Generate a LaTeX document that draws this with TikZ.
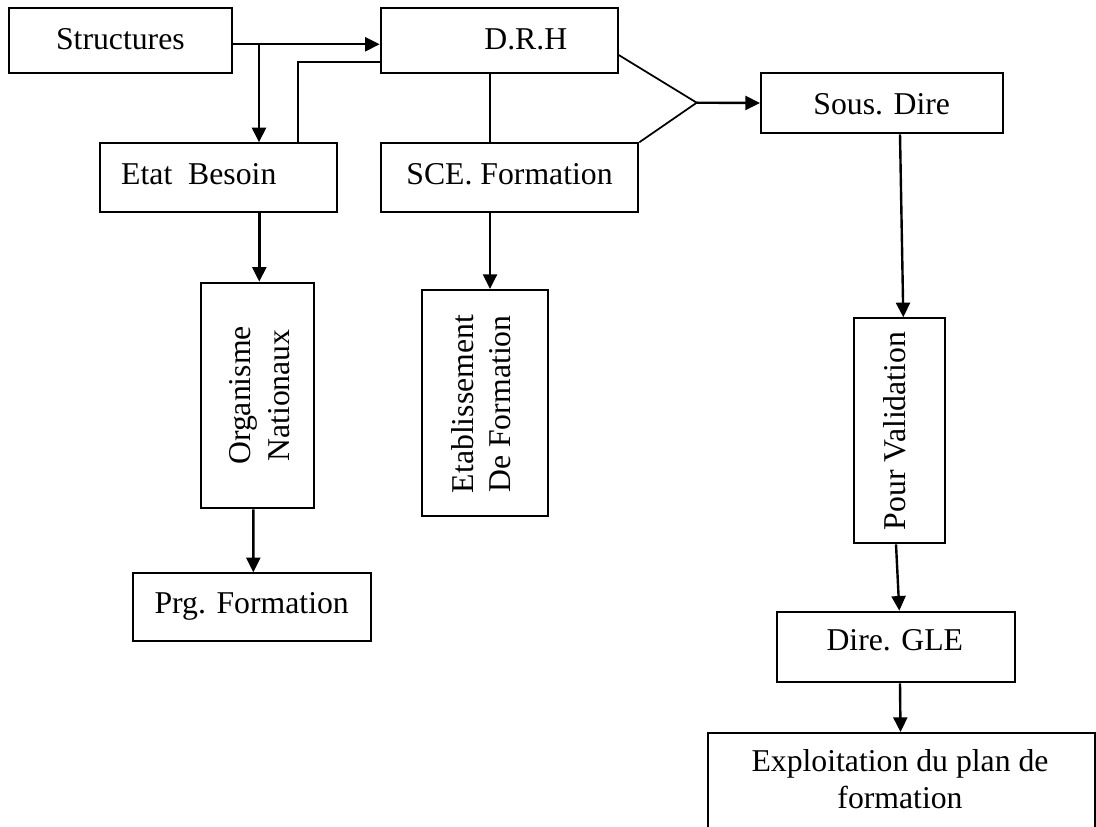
\documentclass[tikz,border=0pt]{standalone}
\usepackage{fontspec}
\setmainfont{Liberation Serif}
\usetikzlibrary{arrows.meta,calc}
\begin{document}
\begin{tikzpicture}[x=0.75pt,y=-0.75pt,
  box/.style={draw, line width=1.5pt, rectangle, inner sep=0pt},
  lbl/.style={inner sep=0pt, font=\fontsize{23.8pt}{27.5pt}\selectfont},
  arr/.style={line width=1.8pt, -{Triangle[length=11pt,width=10.5pt]}},
  thinline/.style={line width=1.3pt}]
\clip (0,0) rectangle (1096,827);
\fill[white] (0,0) rectangle (1096,827);

% boxes
\node[box, minimum width=222.4*0.75pt, minimum height=64.4*0.75pt] (str) at (120.5,40.5) {};
\node[lbl, anchor=base] (strt) at (120.4,50) {Structures};

\node[box, minimum width=237*0.75pt, minimum height=64.4*0.75pt] (drh) at (499.2,40.5) {};
\node[lbl, anchor=base] (drht) at (525.8,50) {D.R.H};

\node[box, minimum width=237*0.75pt, minimum height=68.4*0.75pt] (eb) at (218.5,177.5) {};
\node[lbl, anchor=base] (ebt) at (198.8,184.3) {Etat\ \ Besoin};

\node[box, minimum width=257.6*0.75pt, minimum height=68.4*0.75pt] (sce) at (509.5,177.5) {};
\node[lbl, anchor=base] (scet) at (509.5,184.3) {SCE. Formation};

\node[box, minimum width=241.7*0.75pt, minimum height=60.6*0.75pt] (sous) at (881.8,103) {};
\node[lbl, anchor=base] (sourt) at (881.7,114.3) {Sous. Dire};

\node[box, minimum width=113.6*0.75pt, minimum height=225.6*0.75pt] (org) at (257.5,395.5) {};
\node[lbl, rotate=90, align=center, font=\fontsize{23.8pt}{29.2pt}\selectfont] (orgt) at (259.2,395.5) {Organisme\\Nationaux};

\node[box, minimum width=126.6*0.75pt, minimum height=226*0.75pt] (etab) at (485,403) {};
\node[lbl, rotate=90, align=center] (etabt) at (481,404) {Etablissement\\De Formation};

\node[box, minimum width=90.7*0.75pt, minimum height=225*0.75pt] (pv) at (899.7,430.8) {};
\node[lbl, rotate=90] (pvt) at (895,431) {Pour Validation};

\node[box, minimum width=238*0.75pt, minimum height=67.4*0.75pt] (prg) at (251.7,607) {};
\node[lbl, anchor=base] (prgt) at (251.7,613.3) {Prg. Formation};

\node[box, minimum width=238.3*0.75pt, minimum height=70.6*0.75pt] (dg) at (895.9,647) {};
\node[lbl, anchor=base] (dgt) at (894.8,650.7) {Dire. GLE};

\node[box, minimum width=387*0.75pt, minimum height=167*0.75pt] (expl) at (901.5,816.5) {};
\node[lbl, align=center] (explt) at (900,779.3) {Exploitation du plan de\\formation};

% connectors
\coordinate (j1) at (259,44.3);
\coordinate (jn) at (696.7,102.7);
\draw[arr] ($(str.east)+(0,3.8)$) -- ($(drh.west)+(0,3.8)$);
\draw[arr] (j1) -- (j1 |- eb.north);
\draw[thinline] ($(eb.north west)+(199,0)$) |- ($(drh.west)+(0,21.2)$);
\draw[thinline] ($(drh.south)+(-9.2,0)$) -- ($(sce.north)+(-19.5,0)$);
\draw[thinline] ($(drh.east)+(0,14.5)$) -- (jn) -- (sce.north east);
\draw[arr] (jn) -- (sous.west);
\draw[arr] ($(eb.south)+(40.8,0)$) -- ($(org.north)+(1.8,0)$);
\draw[arr] ($(org.south)+(-4.2,0)$) -- ($(prg.north)+(1.6,0)$);
\draw[arr] ($(sce.south)+(-19.5,0)$) -- ($(etab.north)+(5,0)$);
\draw[arr] ($(sous.south)+(18.2,0)$) -- ($(pv.north)+(3.6,0)$);
\draw[arr] ($(pv.south)+(-3.7,0)$) -- ($(dg.north)+(3.4,0)$);
\draw[arr] ($(dg.south)+(4.1,0)$) -- ($(expl.north)+(-1,0)$);
\end{tikzpicture}
\end{document}
